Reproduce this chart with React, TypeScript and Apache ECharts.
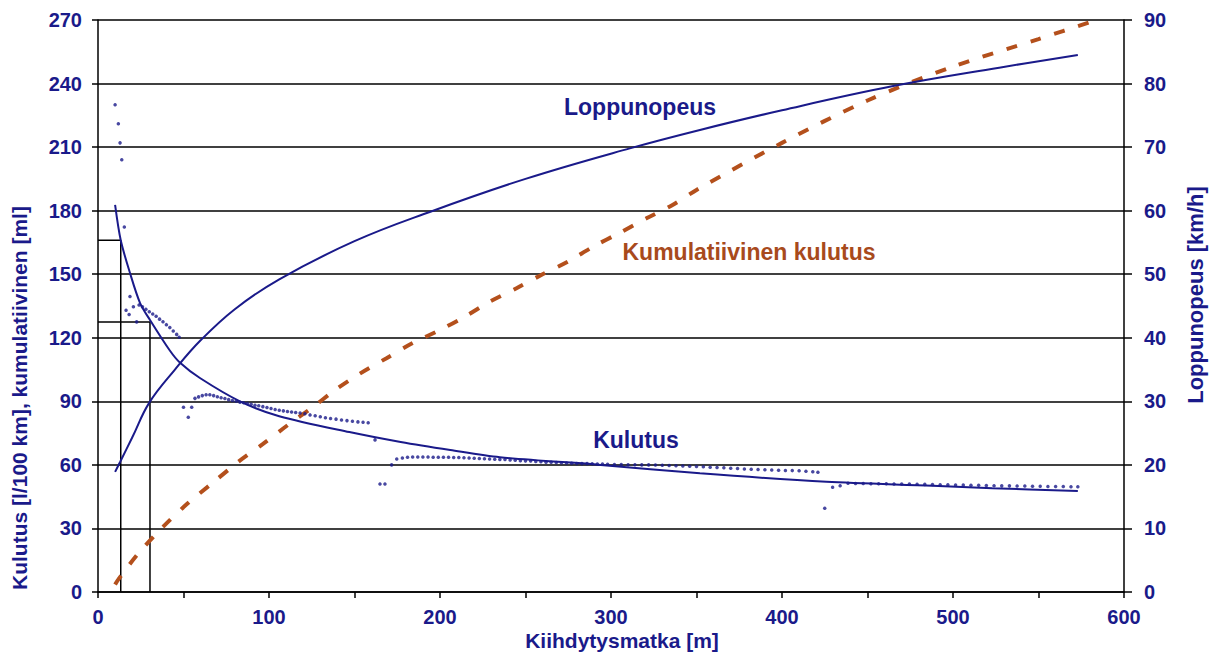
import { useEffect, useRef } from "react";
import * as echarts from "echarts";

// Kulutus, measured points (x: m, y: l/100 km)
const measuredDist = [
  10, 11.9, 12.9, 13.9, 15.4, 16.4, 18.2, 18.7, 20.7, 22.6,
  24, 26, 28, 30, 32, 34, 36, 38, 40, 42, 44, 46, 47.5,
  50, 52.8, 54.8,
  56.7, 58.8, 61, 63.2, 65.4, 67.6, 69.8, 72, 74.2, 76.4, 78.6, 80.8, 83, 85.2, 87.4, 89.6, 91.8, 94, 96.4, 98.8,
  101.2, 103.6, 106, 108.4, 110.8, 113.2, 115.6, 118.2, 121, 124, 127, 130, 133, 136, 139.2, 142.4, 145.6, 148.8, 152, 155, 158,
  162, 164.9, 167.8, 171.7, 174.7,
  178, 181, 184, 187, 190, 193, 196, 199, 202, 205, 208, 211, 214, 217, 220, 223, 226, 229, 232, 235, 238, 241, 244, 247, 250,
  253, 256, 259, 262, 265, 268, 271, 274, 277, 280, 283, 286, 289, 292, 295, 298,
  302, 306, 310, 314, 318, 322, 326, 330, 334, 338, 342, 346, 350, 354, 358, 362, 366, 370, 374, 378, 382, 386, 390, 394, 398,
  402, 406, 410, 414, 418, 421,
  425, 429.6, 434, 438.6,
  443, 447.5, 452, 456.5, 461, 465.5, 470, 474.5, 479, 483.5, 488, 492.5, 497, 501.5, 506, 510.5, 515, 519.5, 524, 528.5,
  533, 537.5, 542, 546.5, 551, 555.5, 560, 564.5, 569, 573,
];
const measuredKulutus = [
  230, 221, 212, 204, 172.3, 133, 131, 139.5, 134.6, 127.5,
  135.5, 134.6, 133.5, 132.3, 131.2, 130.2, 128.8, 127.6, 126.2, 124.8, 123.2, 121.6, 120.2,
  87.2, 82.5, 87.2,
  91.4, 92.1, 92.7, 93.1, 93.1, 92.7, 92.2, 91.7, 91.3, 90.8, 90.4, 90, 89.6, 89.3, 89, 88.6, 88.2, 87.9, 87.5, 87.1,
  86.6, 86.1, 85.8, 85.5, 85.2, 85, 84.7, 84.5, 84.1, 83.6, 83.2, 82.7, 82.3, 81.9, 81.6, 81.2, 80.9, 80.6, 80.3, 80.1, 79.9,
  71.8, 51, 51, 60, 62.8,
  63.3, 63.6, 63.7, 63.7, 63.7, 63.7, 63.6, 63.6, 63.6, 63.6, 63.5, 63.5, 63.4, 63.3, 63.1, 63, 62.9, 62.8, 62.7, 62.6, 62.5, 62.3, 62.2, 62, 61.9,
  61.8, 61.6, 61.5, 61.3, 61.2, 61.1, 61, 60.9, 60.8, 60.7, 60.6, 60.6, 60.5, 60.4, 60.4, 60.3,
  60.2, 60.2, 60.1, 60.1, 60, 60, 59.9, 59.8, 59.7, 59.6, 59.5, 59.4, 59.2, 59.1, 58.9, 58.8, 58.6, 58.4, 58.3, 58.1, 57.9, 57.8, 57.7, 57.6, 57.5,
  57.4, 57.3, 57.2, 57, 56.8, 56.5,
  39.5, 49.4, 50.2, 51.3,
  51.2, 51.2, 51.1, 51.1, 51.1, 51, 51, 51, 50.9, 50.8, 50.7, 50.6, 50.6, 50.5, 50.5, 50.4, 50.4, 50.3, 50.2, 50.1,
  50.1, 50, 50, 49.9, 49.9, 49.8, 49.8, 49.8, 49.7, 49.7,
];

// Kulutus, fitted curve
const fitDist = [10, 13.3, 18.7, 24.6, 30.4, 42, 48, 59.6, 83, 106, 147, 177, 206, 235, 294, 352, 426, 488, 523, 573];
const fitKulutus = [182.7, 166, 150.6, 136.4, 128.4, 114, 108.2, 101, 90, 83, 75.5, 70.8, 67, 63.6, 60, 56, 52, 50.2, 49, 47.7];

// Loppunopeus (km/h)
const speedDist = [10, 13, 20, 30, 45, 60, 80, 106, 150, 194, 250, 311, 352, 400, 465, 527, 573];
const speedKmh = [18.9, 20.5, 24.3, 29.8, 35, 39.6, 44.5, 49.2, 55.2, 59.8, 65, 69.8, 72.7, 75.8, 79.6, 82.5, 84.5];

// Kumulatiivinen kulutus (ml)
const cumDist = [10, 11.7, 23.4, 38, 52, 67, 82, 96.5, 111, 125, 138.6, 153, 169, 184, 200, 214.6, 229, 245, 260, 275, 289.5, 305, 321, 336, 350, 400, 450, 500, 550, 584];
const cumMl = [3.5, 5.7, 18, 30.7, 41.5, 51.5, 61.4, 69.9, 78.8, 86.9, 95.3, 103, 110.5, 117.5, 123.7, 130, 137, 143.5, 150, 156, 163, 169.5, 176.5, 182.7, 189.8, 212, 232, 248, 261, 270];

// Guide lines
const guideA = [[0, 166], [13.3, 166], [13.3, 0]];
const guideB = [[0, 127.5], [30.4, 127.5], [30.4, 0]];

const NAVY = "#1a1a8a";
const BROWN = "#b4501c";
const FONT = "Liberation Sans, Arial, sans-serif";

const zip = (a: number[], b: number[]) => a.map((v, i) => [v, b[i]]);

export default function App() {
  const ref = useRef<HTMLDivElement>(null);
  useEffect(() => {
    document.body.style.margin = "0";
    const chart = echarts.init(ref.current!, undefined, { renderer: "svg" });
    const labelStyle = { color: NAVY, fontWeight: "bold" as const, fontSize: 20, fontFamily: FONT };
    chart.setOption({
      animation: false,
      backgroundColor: "#ffffff",
      grid: { left: 98, right: 90, top: 20, bottom: 63 },
      xAxis: {
        type: "value",
        min: 0,
        max: 600,
        interval: 100,
        axisLine: { show: true, onZero: false, lineStyle: { color: "#000", width: 1.5 } },
        axisTick: { show: true, length: 6, lineStyle: { color: "#000", width: 1.5 } },
        minorTick: { show: true, splitNumber: 2, length: 6, lineStyle: { color: "#000", width: 1.5 } },
        axisLabel: { ...labelStyle, margin: 15 },
        splitLine: { show: false },
      },
      yAxis: [
        {
          type: "value",
          min: 0,
          max: 270,
          interval: 30,
          axisLine: { show: true, lineStyle: { color: "#000", width: 1.5 } },
          axisTick: { show: true, length: 6, lineStyle: { color: "#000", width: 1.5 } },
          axisLabel: { ...labelStyle, margin: 16 },
          splitLine: { show: true, lineStyle: { color: "#000", width: 1.5 } },
        },
        {
          type: "value",
          position: "right",
          min: 0,
          max: 90,
          interval: 10,
          axisLine: { show: true, lineStyle: { color: "#000", width: 1.5 } },
          axisTick: { show: true, length: 8, lineStyle: { color: "#000", width: 1.5 } },
          axisLabel: { ...labelStyle, margin: 20 },
          splitLine: { show: false },
        },
      ],
      series: [
        {
          type: "line",
          data: guideA,
          symbol: "none",
          lineStyle: { color: "#000", width: 1.5 },
          z: 2,
        },
        {
          type: "line",
          data: guideB,
          symbol: "none",
          lineStyle: { color: "#000", width: 1.5 },
          z: 2,
        },
        {
          name: "Kumulatiivinen kulutus",
          type: "line",
          data: zip(cumDist, cumMl),
          symbol: "none",
          smooth: 0.3,
          lineStyle: { color: BROWN, width: 4, type: [11, 14], cap: "butt" },
          z: 3,
        },
        {
          name: "Loppunopeus",
          type: "line",
          yAxisIndex: 1,
          data: zip(speedDist, speedKmh),
          symbol: "none",
          smooth: 0.4,
          lineStyle: { color: NAVY, width: 2 },
          z: 4,
        },
        {
          name: "Kulutus",
          type: "line",
          data: zip(fitDist, fitKulutus),
          symbol: "none",
          smooth: 0.3,
          lineStyle: { color: NAVY, width: 2 },
          z: 4,
        },
        {
          name: "Kulutus mitattu",
          type: "scatter",
          data: zip(measuredDist, measuredKulutus),
          symbol: "circle",
          symbolSize: 3.5,
          itemStyle: { color: NAVY },
          z: 5,
        },
      ],
      graphic: [
        {
          type: "text",
          x: 640,
          y: 107,
          style: { text: "Loppunopeus", fill: NAVY, font: `bold 23px ${FONT}`, align: "center", verticalAlign: "middle" },
        },
        {
          type: "text",
          x: 749,
          y: 252,
          style: { text: "Kumulatiivinen kulutus", fill: "#a84a1c", font: `bold 23px ${FONT}`, align: "center", verticalAlign: "middle" },
        },
        {
          type: "text",
          x: 636,
          y: 440,
          style: { text: "Kulutus", fill: NAVY, font: `bold 23px ${FONT}`, align: "center", verticalAlign: "middle" },
        },
        {
          type: "text",
          x: 622,
          y: 640,
          style: { text: "Kiihdytysmatka [m]", fill: NAVY, font: `bold 21px ${FONT}`, align: "center", verticalAlign: "middle" },
        },
        {
          type: "text",
          x: 19,
          y: 398,
          rotation: Math.PI / 2,
          style: { text: "Kulutus [l/100 km], kumulatiivinen [ml]", fill: NAVY, font: `bold 21px ${FONT}`, align: "center", verticalAlign: "middle" },
        },
        {
          type: "text",
          x: 1195,
          y: 295,
          rotation: Math.PI / 2,
          style: { text: "Loppunopeus [km/h]", fill: NAVY, font: `bold 22px ${FONT}`, align: "center", verticalAlign: "middle" },
        },
      ],
    });
    return () => chart.dispose();
  }, []);
  return <div ref={ref} style={{ width: 1214, height: 655 }} />;
}
